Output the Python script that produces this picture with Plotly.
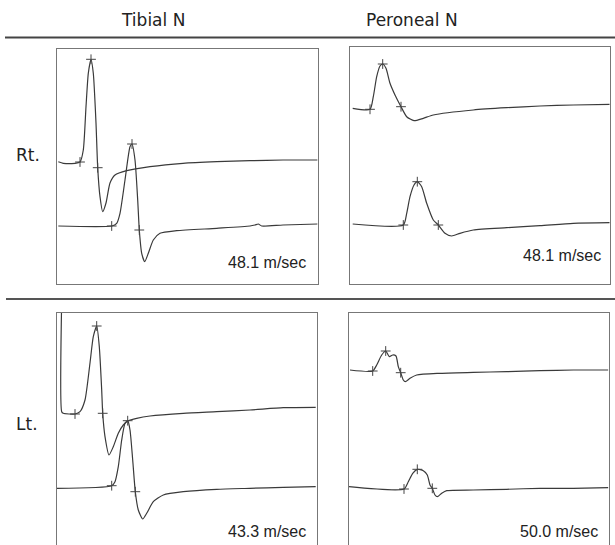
import plotly.graph_objects as go

W, H = 615, 545

# ---------------- data (x: ms from sweep start, y: amplitude units) -------------
# Right tibial
rt_tib_prox_t = [0.13, 0.63, 1.8, 2.3, 2.63, 2.9, 3.13, 3.4, 3.63, 3.9, 4.07, 4.3, 4.57, 4.9, 5.3, 5.8, 6.97, 9.3, 12.6, 15.97, 19.3, 22.6, 26.07]
rt_tib_prox_v = [12.23, 12.07, 12.07, 12.2, 13.4, 17.73, 21.07, 22.47, 21.07, 16.1, 11.63, 8.73, 7.23, 8.1, 10.1, 10.9, 11.33, 11.73, 12.07, 12.23, 12.33, 12.4, 12.4]
rt_tib_dist_t = [0.13, 5.47, 5.97, 6.3, 6.8, 7.3, 7.5, 7.8, 8.07, 8.23, 8.47, 8.77, 9.13, 9.63, 10.3, 11.97, 15.97, 19.3, 19.8, 20.13, 20.47, 22.6, 26.07]
rt_tib_dist_v = [5.8, 5.8, 6.07, 7.07, 10.4, 13.73, 14.0, 12.4, 8.4, 5.4, 3.07, 2.23, 3.07, 4.4, 5.07, 5.33, 5.57, 5.8, 5.9, 6.0, 5.8, 5.9, 6.0]
rt_tib_mark_t = [2.3, 3.4, 4.07, 5.47, 7.5, 8.23]
rt_tib_mark_v = [12.2, 22.47, 11.63, 5.8, 14.0, 5.4]

# Right peroneal
rt_per_prox_t = [0.07, 1.8, 2.13, 2.47, 2.8, 3.07, 3.4, 3.8, 4.3, 4.9, 5.47, 6.2, 7.13, 8.13, 12.13, 15.47, 18.8, 22.13, 25.8]
rt_per_prox_v = [17.57, 17.47, 18.73, 20.73, 21.8, 22.0, 21.57, 20.07, 18.9, 17.73, 16.73, 16.33, 16.57, 16.9, 17.4, 17.63, 17.8, 17.9, 17.97]
rt_per_dist_t = [0.07, 5.13, 5.47, 5.8, 6.2, 6.53, 6.97, 7.47, 8.13, 8.63, 9.3, 9.97, 10.8, 12.13, 15.47, 18.8, 22.13, 25.8]
rt_per_dist_v = [6.0, 5.9, 7.07, 8.73, 9.9, 10.23, 9.73, 8.07, 6.4, 5.9, 5.07, 4.8, 5.07, 5.4, 5.63, 5.83, 6.07, 6.13]
rt_per_mark_t = [1.8, 3.07, 4.9, 5.13, 6.53, 8.63]
rt_per_mark_v = [17.47, 22.0, 17.73, 5.9, 10.23, 5.9]

# Left tibial
lt_tib_prox_t = [0.47, 0.47, 0.63, 1.8, 2.3, 2.8, 3.3, 3.63, 3.97, 4.23, 4.47, 4.57, 4.8, 5.2, 5.63, 6.13, 6.63, 7.13, 7.97, 9.3, 12.63, 15.97, 19.3, 22.63, 25.87]
lt_tib_prox_v = [24.5, 13.33, 13.17, 13.1, 13.33, 14.5, 18.2, 20.83, 21.9, 19.83, 15.5, 13.17, 10.83, 9.0, 9.83, 11.17, 12.0, 12.43, 12.67, 12.9, 13.17, 13.33, 13.5, 13.73, 13.77]
lt_tib_dist_t = [0.0, 5.47, 5.8, 6.13, 6.47, 6.8, 7.07, 7.3, 7.57, 7.83, 8.13, 8.57, 8.97, 9.63, 10.63, 12.63, 15.97, 19.3, 22.63, 25.87]
lt_tib_dist_v = [5.67, 5.93, 6.33, 7.83, 10.5, 12.17, 12.43, 11.5, 8.5, 5.33, 3.5, 2.6, 3.17, 4.33, 5.0, 5.33, 5.57, 5.67, 5.77, 5.83]
lt_tib_mark_t = [1.8, 3.97, 4.57, 5.47, 7.07, 7.83]
lt_tib_mark_v = [13.1, 21.9, 13.17, 5.93, 12.43, 5.33]

# Left peroneal
lt_per_prox_t = [0.1, 2.37, 2.77, 3.27, 3.67, 4.03, 4.37, 4.7, 4.93, 5.17, 5.43, 5.63, 6.1, 6.77, 9.1, 12.43, 15.77, 19.1, 22.43, 25.93]
lt_per_prox_v = [17.5, 17.4, 18.0, 19.0, 19.4, 18.83, 19.0, 18.9, 17.83, 17.23, 16.5, 16.33, 16.67, 17.0, 17.17, 17.27, 17.33, 17.43, 17.5, 17.5]
lt_per_dist_t = [0.0, 5.5, 5.93, 6.37, 6.83, 7.43, 7.83, 8.1, 8.33, 8.6, 8.83, 9.27, 9.77, 12.43, 15.77, 19.1, 22.43, 25.93]
lt_per_dist_v = [5.83, 5.6, 6.33, 7.17, 7.57, 7.43, 7.0, 6.0, 5.67, 5.0, 4.83, 5.17, 5.43, 5.5, 5.57, 5.67, 5.67, 5.73]
lt_per_mark_t = [2.37, 3.67, 5.17, 5.5, 6.83, 8.33]
lt_per_mark_v = [17.4, 19.4, 17.23, 5.6, 7.57, 5.67]

column_titles = ["Tibial N", "Peroneal N"]
row_titles = ["Rt.", "Lt."]
velocities = ["48.1 m/sec", "48.1 m/sec", "43.3 m/sec", "50.0 m/sec"]

panels = [
    (rt_tib_prox_t, rt_tib_prox_v, rt_tib_dist_t, rt_tib_dist_v, rt_tib_mark_t, rt_tib_mark_v),
    (rt_per_prox_t, rt_per_prox_v, rt_per_dist_t, rt_per_dist_v, rt_per_mark_t, rt_per_mark_v),
    (lt_tib_prox_t, lt_tib_prox_v, lt_tib_dist_t, lt_tib_dist_v, lt_tib_mark_t, lt_tib_mark_v),
    (lt_per_prox_t, lt_per_prox_v, lt_per_dist_t, lt_per_dist_v, lt_per_mark_t, lt_per_mark_v),
]

# ---------------- layout geometry (pixels) ----------------
# (left, top, right, bottom, x0, x1, y0, y1)
geom = [
    (57, 49, 317.5, 283.5, 0.0, 26.05, 0.05, 23.5),
    (350, 47, 609.5, 283.5, -0.2, 25.75, 0.05, 23.7),
    (57, 312.5, 316.5, 545, 0.0, 25.95, 0.0, 23.25),
    (349, 312.5, 608.5, 545, 0.0, 25.95, 0.0, 23.25),
]

def px(x):
    return x / W

def py(y):
    return 1 - y / H

fig = go.Figure()
trace_color = "#3a3a3a"
layout = {}
for i, ((pt, pv, dt, dv, mt, mv), (l, t, r, b, x0, x1, y0, y1)) in enumerate(zip(panels, geom)):
    n = "" if i == 0 else str(i + 1)
    xa, ya = "x" + n, "y" + n
    for tt, vv in ((pt, pv), (dt, dv)):
        fig.add_trace(go.Scatter(x=tt, y=vv, mode="lines", xaxis=xa, yaxis=ya,
                                 line=dict(color=trace_color, width=1.2, shape="spline", smoothing=0.6),
                                 hoverinfo="skip", showlegend=False))
    fig.add_trace(go.Scatter(x=mt, y=mv, mode="markers", xaxis=xa, yaxis=ya,
                             marker=dict(symbol="cross-thin", size=7, line=dict(color="#444", width=1)),
                             hoverinfo="skip", showlegend=False))
    bottom_row = i >= 2
    layout["xaxis" + n] = dict(domain=[px(l), px(r)], range=[x0, x1], showgrid=False, zeroline=False,
                                showticklabels=False, ticks="", showline=True, linecolor="#777",
                                linewidth=1, mirror=not bottom_row, side="top" if bottom_row else "bottom",
                                anchor=ya, fixedrange=True)
    layout["yaxis" + n] = dict(domain=[py(b), py(t)], range=[y0, y1], showgrid=False, zeroline=False,
                                showticklabels=False, ticks="", showline=True, linecolor="#777",
                                linewidth=1, mirror=True, anchor=xa, fixedrange=True)

fig.update_layout(**layout)

annotations = []
title_font = dict(family="DejaVu Sans", size=17, color="#222")
for txt, cx in zip(column_titles, [152.5, 411.5]):
    annotations.append(dict(text=txt, x=px(cx), y=py(20), xref="paper", yref="paper",
                            xanchor="center", yanchor="middle", showarrow=False, font=title_font))
for txt, cy in zip(row_titles, [155, 424]):
    annotations.append(dict(text=txt, x=px(14), y=py(cy), xref="paper", yref="paper",
                            xanchor="left", yanchor="middle", showarrow=False, font=title_font))
vel_pos = [(308, 262), (603, 255), (308, 531), (600, 531)]
for txt, (rx, cy) in zip(velocities, vel_pos):
    annotations.append(dict(text=txt, x=px(rx), y=py(cy), xref="paper", yref="paper",
                            xanchor="right", yanchor="middle", showarrow=False,
                            font=dict(family="Liberation Sans", size=16, color="#222")))

shapes = [
    dict(type="line", xref="paper", yref="paper", x0=px(5), x1=1, y0=py(37.5), y1=py(37.5),
         line=dict(color="#444", width=2)),
    dict(type="line", xref="paper", yref="paper", x0=px(6), x1=1, y0=py(299), y1=py(299),
         line=dict(color="#555", width=2)),
]

fig.update_layout(width=W, height=H, margin=dict(l=0, r=0, t=0, b=0),
                  paper_bgcolor="white", plot_bgcolor="white",
                  annotations=annotations, shapes=shapes)

fig.write_html("out.html", config={"displayModeBar": False},
               post_script="document.body.style.margin='0';document.body.style.overflow='hidden';")
